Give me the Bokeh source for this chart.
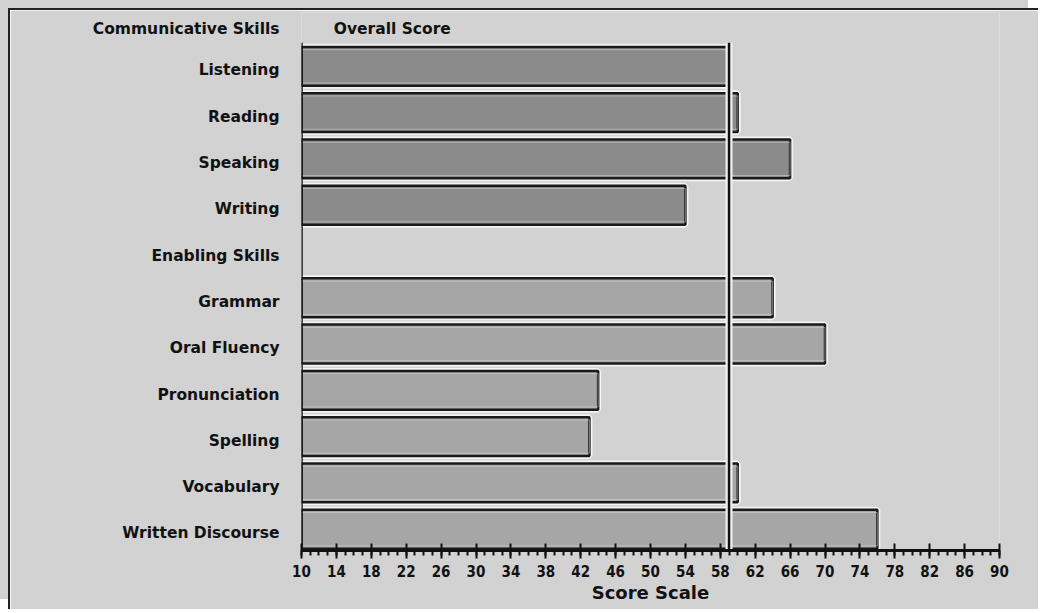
from bokeh.plotting import figure
from bokeh.models import Range1d, FixedTicker
from bokeh.embed import file_html
from bokeh.resources import INLINE

communicative_header = "Communicative Skills"
communicative_skills = ["Listening", "Reading", "Speaking", "Writing"]
communicative_scores = [59, 60, 66, 54]
enabling_header = "Enabling Skills"
enabling_skills = ["Grammar", "Oral Fluency", "Pronunciation", "Spelling", "Vocabulary", "Written Discourse"]
enabling_scores = [64, 70, 44, 43, 60, 76]
overall_label = "Overall Score"
overall_score = 59
x_min, x_max = 10, 90
x_ticks = list(range(10, 91, 4))

row_labels = communicative_skills + [enabling_header] + enabling_skills
BAR_SHIFT = -0.09
comm_y = [i + BAR_SHIFT for i in range(len(communicative_skills))]
enab_y = [len(communicative_skills) + 1 + i + BAR_SHIFT for i in range(len(enabling_skills))]
HEADER_Y = -0.907
Y_TOP = -1.253
Y_BOTTOM = 10.37
AXIS_TOP = -0.6

FONT = "DejaVu Sans Condensed"
YFONT = "DejaVu Sans"
BG = "#d2d2d2"
INK = "#111111"

p = figure(width=1030, height=601, output_backend="svg", toolbar_location=None,
           x_range=Range1d(x_min, x_max), y_range=Range1d(Y_BOTTOM, Y_TOP),
           min_border_left=291, min_border_right=41, min_border_top=2, min_border_bottom=61)
p.background_fill_color = BG
p.border_fill_color = BG
p.outline_line_color = None
p.grid.visible = False

# bars: white halo, then filled bar with dark outline
for ys, vals, fill in [(comm_y, communicative_scores, "#8b8b8b"), (enab_y, enabling_scores, "#a6a6a6")]:
    p.hbar(y=ys, left=x_min, right=vals, height=0.84, fill_color=None, line_color="#f4f4f4", line_width=6)
    p.hbar(y=ys, left=x_min, right=vals, height=0.84, fill_color=fill, line_color="#1a1a1a", line_width=2.5)
    p.hbar(y=ys, left=x_min, right=vals, height=0.72, fill_color=None, line_color="#dddddd", line_width=1, line_alpha=0.5)

# left axis line (starts at the first bar) and overall score line
p.segment(x0=[x_min], y0=[AXIS_TOP], x1=[x_min], y1=[Y_BOTTOM], line_color=INK, line_width=2.5)
p.segment(x0=[overall_score], y0=[AXIS_TOP], x1=[overall_score], y1=[Y_BOTTOM], line_color="#f0f0f0", line_width=7)
p.segment(x0=[overall_score], y0=[AXIS_TOP], x1=[overall_score], y1=[Y_BOTTOM], line_color=INK, line_width=2.5)

# header "Overall Score"
p.text(x=[13.7], y=[HEADER_Y], text=[overall_label], text_font={"value": YFONT}, text_font_style="bold",
       text_font_size="15.5px", text_color=INK, text_baseline="middle", text_align="left")

# x axis
xa = p.xaxis[0]
xa.ticker = FixedTicker(ticks=x_ticks, minor_ticks=list(range(x_min, x_max + 1)))
xa.axis_line_width = 3
xa.axis_line_color = INK
xa.major_tick_line_width = 2
xa.major_tick_line_color = INK
xa.major_tick_out = 8
xa.major_tick_in = 7
xa.minor_tick_line_width = 2
xa.minor_tick_line_color = INK
xa.minor_tick_out = 5
xa.minor_tick_in = 0
xa.major_label_text_font = FONT
xa.major_label_text_font_style = "bold"
xa.major_label_text_font_size = "15px"
xa.major_label_text_color = INK
xa.major_label_standoff = 6
xa.axis_label = "Score Scale"
xa.axis_label_text_font = YFONT
xa.axis_label_text_font_style = "bold"
xa.axis_label_text_font_size = "18px"
xa.axis_label_text_color = INK
xa.axis_label_standoff = 2

# y axis
ya = p.yaxis[0]
ya.ticker = FixedTicker(ticks=[HEADER_Y] + list(range(len(row_labels))))
overrides = {i: t for i, t in enumerate(row_labels)}
overrides[HEADER_Y] = communicative_header
ya.major_label_overrides = overrides
ya.major_tick_line_color = None
ya.minor_tick_line_color = None
ya.axis_line_color = None
ya.major_label_text_font = YFONT
ya.major_label_text_font_style = "bold"
ya.major_label_text_font_size = "15.5px"
ya.major_label_text_color = INK
ya.major_label_standoff = 16

p.styles = {"margin-left": "8px", "margin-top": "8px",
            "border-left": "2px solid #222", "border-top": "2px solid #222",
            "box-shadow": "-10px -10px 0 0 #d2d2d2"}

open("out.html", "w").write(file_html(p, INLINE))
